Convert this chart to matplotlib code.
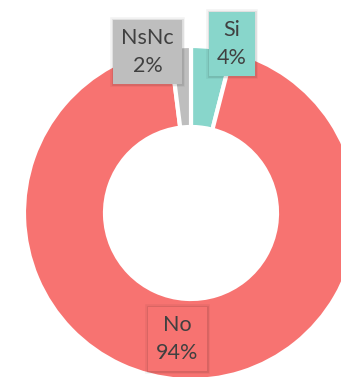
import numpy as np
import matplotlib
matplotlib.use("Agg")
import matplotlib.pyplot as plt
import matplotlib.patheffects as pe

# Data
labels = ["Si", "No", "NsNc"]
values = [4, 94, 2]
colors = ["#88D6CB", "#F77371", "#BEBEBE"]

# label placement: (radius, angle nudge in degrees) relative to wedge middle
label_radius = [1.04, 0.76, 1.0]
label_nudge = [-6.5, -2.5, 11.5]

W, H = 341, 377
fig = plt.figure(figsize=(W / 100, H / 100), dpi=100)
ax = fig.add_axes([0, 0, 1, 1])

wedges, _ = ax.pie(values, colors=colors, startangle=90, counterclock=False,
                   radius=1.0,
                   wedgeprops=dict(width=0.485, edgecolor="white", linewidth=3))

# ring geometry in pixels
R = 167.0
cx, cy = 191.0, 213.0
ax.set_xlim(-cx / R, (W - cx) / R)
ax.set_ylim(-(H - cy) / R, cy / R)
ax.set_aspect("auto")
ax.axis("off")

total = sum(values)
for w, lab, v, col, r, nd in zip(wedges, labels, values, colors, label_radius, label_nudge):
    mid = np.deg2rad((w.theta1 + w.theta2) / 2 + nd)
    x, y = r * np.cos(mid), r * np.sin(mid)
    pct = round(100 * v / total)
    t = ax.text(x, y, f"{lab}\n{pct}%", ha="center", va="center",
                fontsize=15.5, family="Lato", color="#404040", linespacing=1.5,
                bbox=dict(boxstyle="square,pad=0.38", facecolor=col, edgecolor="none"))
    # soft shadow around the label box
    t.get_bbox_patch().set_path_effects([
        pe.Stroke(linewidth=4, foreground="black", alpha=0.05),
        pe.Stroke(linewidth=2, foreground="black", alpha=0.08),
        pe.Normal()])

fig.savefig("out.png", dpi=100)
